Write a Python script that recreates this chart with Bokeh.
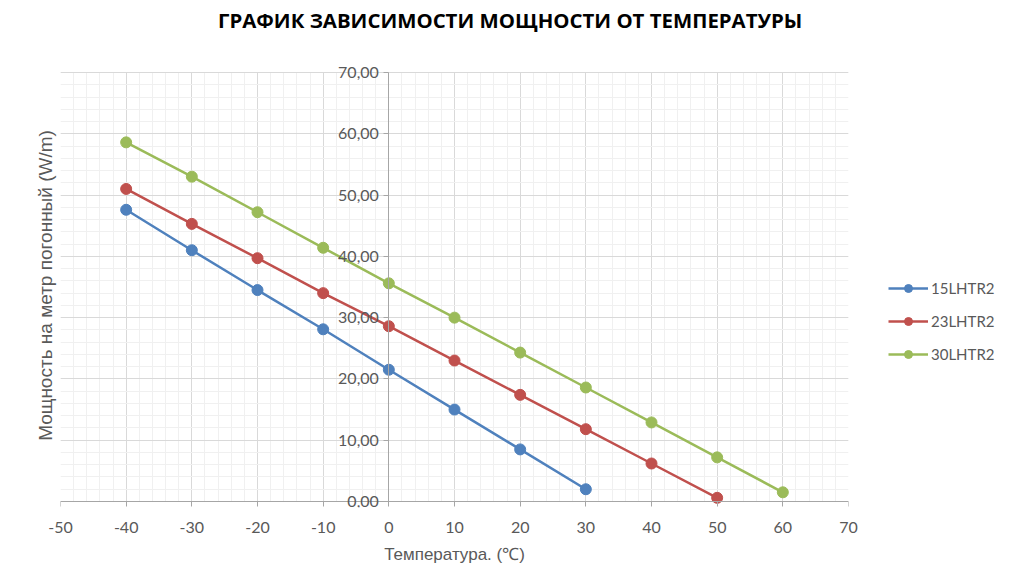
from bokeh.plotting import figure
from bokeh.layouts import column
from bokeh.models import (LinearAxis, SingleIntervalTicker, FixedTicker, Grid, Div,
                          CustomJSTickFormatter, Legend, LegendItem, BoxAnnotation)
from bokeh.embed import file_html
from bokeh.resources import INLINE

title_text = "ГРАФИК ЗАВИСИМОСТИ МОЩНОСТИ ОТ ТЕМПЕРАТУРЫ"
temps_15 = [-40, -30, -20, -10, 0, 10, 20, 30]
power_15 = [47.6, 41.0, 34.5, 28.1, 21.5, 15.0, 8.5, 2.0]
temps_23 = [-40, -30, -20, -10, 0, 10, 20, 30, 40, 50]
power_23 = [51.0, 45.3, 39.7, 34.0, 28.6, 23.0, 17.4, 11.8, 6.2, 0.6]
temps_30 = [-40, -30, -20, -10, 0, 10, 20, 30, 40, 50, 60]
power_30 = [58.6, 53.0, 47.2, 41.4, 35.6, 30.0, 24.3, 18.6, 12.9, 7.2, 1.5]
series_names = ["15LHTR2", "23LHTR2", "30LHTR2"]
colors = ["#4F81BD", "#C0504D", "#9BBB59"]
x_min, x_max = -50, 70
y_min, y_max = 0, 70

FONT = "Lato"
TXT = "#595959"
AXIS_C = "#A6A6A6"

TITLE_H = 40
PX = 429 / (y_max - y_min)
EXT_T, EXT_B = 9, 6
p = figure(frame_width=788, frame_height=429 + EXT_T + EXT_B,
           x_range=(x_min, x_max),
           y_range=(y_min - EXT_B / PX, y_max + EXT_T / PX),
           output_backend="svg", toolbar_location=None, title=None,
           x_axis_type=None, y_axis_type=None,
           min_border_left=60, min_border_right=150,
           min_border_top=63 - TITLE_H, min_border_bottom=60,
           outline_line_color=None)

title = Div(text=title_text, width=1008, height=TITLE_H, margin=0,
            styles={"font-family": "Open Sans", "font-weight": "bold",
                    "font-size": "20.4px", "line-height": f"{TITLE_H}px",
                    "color": "#000000", "padding-left": "218px",
                    "white-space": "nowrap"})

xt = SingleIntervalTicker(interval=10, num_minor_ticks=5)
yt = SingleIntervalTicker(interval=10, num_minor_ticks=5)

xline = LinearAxis(ticker=xt, fixed_location=0)
xline.axis_line_color = AXIS_C
xline.major_tick_line_color = AXIS_C
xline.major_tick_out = 5
xline.major_tick_in = 0
xline.minor_tick_line_color = None
xline.major_label_text_font_size = "0px"
xline.major_label_text_color = None
p.add_layout(xline, "below")

xaxis = LinearAxis(ticker=xt, axis_label="Температура. (℃)",
                   formatter=CustomJSTickFormatter(code="return tick.toString();"))
xaxis.axis_line_color = None
xaxis.major_tick_line_color = None
xaxis.minor_tick_line_color = None
xaxis.major_tick_out = 0
xaxis.major_tick_in = 0
xaxis.major_label_text_font = FONT
xaxis.major_label_text_font_size = "16px"
xaxis.major_label_text_color = TXT
xaxis.major_label_standoff = 10
xaxis.axis_label_text_font = "Liberation Sans"
xaxis.axis_label_text_font_size = "17px"
xaxis.axis_label_text_font_style = "normal"
xaxis.axis_label_text_color = TXT
xaxis.axis_label_standoff = 9
p.add_layout(xaxis, "below")

ylab = LinearAxis(ticker=FixedTicker(ticks=[]), axis_label="Мощность на метр погонный (W/m)")
ylab.axis_line_color = None
ylab.major_tick_line_color = None
ylab.minor_tick_line_color = None
ylab.axis_label_text_font = "Liberation Sans"
ylab.axis_label_text_font_size = "19px"
ylab.axis_label_text_font_style = "normal"
ylab.axis_label_text_color = TXT
ylab.axis_label_standoff = 5
p.add_layout(ylab, "left")

yaxis = LinearAxis(ticker=yt, fixed_location=0,
                   formatter=CustomJSTickFormatter(code="return tick.toFixed(2).replace('.', ',');"))
yaxis.axis_line_color = AXIS_C
yaxis.major_tick_line_color = AXIS_C
yaxis.major_tick_out = 5
yaxis.major_tick_in = 0
yaxis.minor_tick_line_color = None
yaxis.major_label_text_font = FONT
yaxis.major_label_text_font_size = "16px"
yaxis.major_label_text_color = TXT
yaxis.bounds = (y_min, y_max)
p.add_layout(yaxis, "left")

has_cross = "cross_bounds" in Grid.properties()
for dim, tk in ((0, xt), (1, yt)):
    g = Grid(dimension=dim, ticker=tk)
    g.grid_line_color = "#D9D9D9"
    g.minor_grid_line_color = "#F0F0F0"
    if has_cross:
        g.cross_bounds = (x_min, x_max) if dim == 1 else (y_min, y_max)
    p.add_layout(g)

if not has_cross:
    p.add_layout(BoxAnnotation(bottom=y_max + 0.12, fill_color="white", fill_alpha=1,
                               line_color=None, level="underlay"))
    p.add_layout(BoxAnnotation(top=y_min - 0.12, fill_color="white", fill_alpha=1,
                               line_color=None, level="underlay"))

items = []
for name, xs, ys, c in ((series_names[0], temps_15, power_15, colors[0]),
                        (series_names[1], temps_23, power_23, colors[1]),
                        (series_names[2], temps_30, power_30, colors[2])):
    l = p.line(xs, ys, line_color=c, line_width=2.5)
    s = p.scatter(xs, ys, size=11, fill_color=c, line_color=c)
    items.append(LegendItem(label=name, renderers=[l, s]))

legend = Legend(items=items, location=(40, 143), border_line_color=None,
                background_fill_alpha=0, glyph_width=40, glyph_height=20,
                spacing=13, label_standoff=3, padding=10, margin=0,
                label_text_font=FONT, label_text_font_size="15px",
                label_text_color=TXT)
p.add_layout(legend, "right")

layout = column(title, p, spacing=0)
open("out.html", "w").write(file_html(layout, INLINE))
